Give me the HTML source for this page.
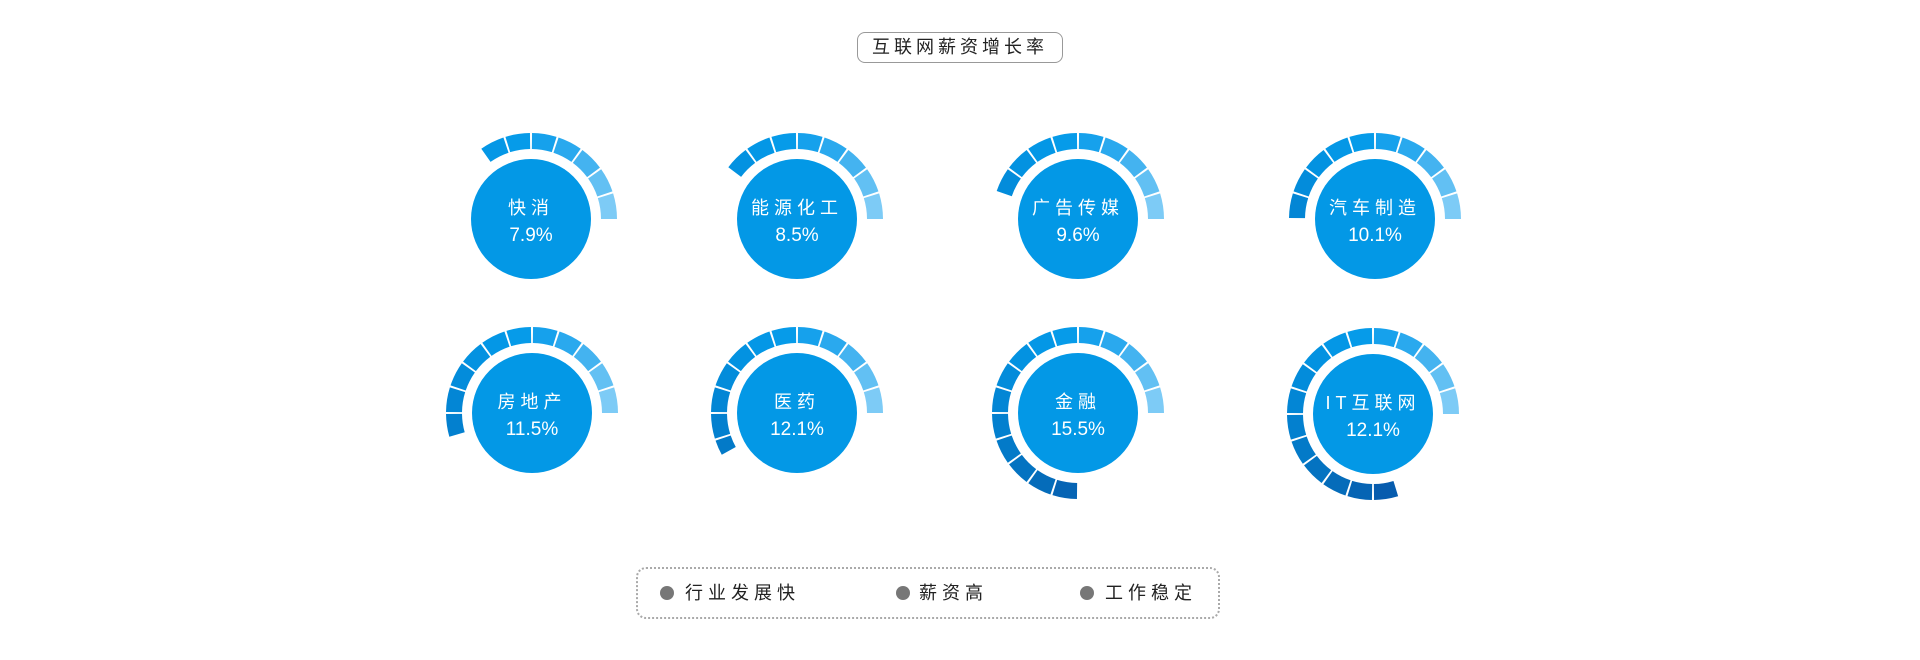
<!DOCTYPE html>
<html><head><meta charset="utf-8"><style>
html,body{margin:0;padding:0;background:#fff;}
body{width:1920px;height:660px;position:relative;overflow:hidden;font-family:"Liberation Sans","Noto Sans CJK SC",sans-serif;}
.title{position:absolute;left:857px;top:32px;width:204px;height:29px;border:1px solid #999;border-radius:8px;text-align:center;line-height:29px;font-size:18px;letter-spacing:4px;color:#222;}
.legend{position:absolute;left:636px;top:567px;width:580px;height:48px;border:2px dotted #aaa;border-radius:10px;}
.li{position:absolute;top:0;line-height:48px;font-size:18px;letter-spacing:5px;color:#222;}
.dot{position:absolute;width:14px;height:14px;border-radius:50%;background:#777;top:17px;}
</style></head><body>
<div class="title">互联网薪资增长率</div>
<svg id="s" width="1920" height="660" style="position:absolute;left:0;top:0"></svg>
<div class="legend">
<div class="dot" style="left:22px"></div><div class="li" style="left:47px">行业发展快</div>
<div class="dot" style="left:258px"></div><div class="li" style="left:281px">薪资高</div>
<div class="dot" style="left:442px"></div><div class="li" style="left:467px">工作稳定</div>
</div>
<script>
var cols=["#7dcbf6","#62c0f3","#44b3f0","#2aa9ee","#16a1ec","#069be9","#0497e6","#0392e1","#038cdb","#0386d5","#0380cf","#037ac8","#0473c1","#056cba","#0664b4","#075cae","#0756a8","#0756a8","#0756a8","#0756a8"];
var d=[[531,219,126,"快消","7.9%"],[797,219,143,"能源化工","8.5%"],[1078,219,161,"广告传媒","9.6%"],[1375,219,180,"汽车制造","10.1%"],
[532,413,196,"房地产","11.5%"],[797,413,209,"医药","12.1%"],[1078,413,270,"金融","15.5%"],[1373,414,287,"IT互联网","12.1%"]];
var h="",R1=70,R2=86,g=0.7;
function p(cx,cy,r,a){a=a*Math.PI/180;return (cx+r*Math.cos(a)).toFixed(2)+" "+(cy-r*Math.sin(a)).toFixed(2);}
d.forEach(function(o){
var cx=o[0],cy=o[1],e=o[2];
for(var i=0;i<20;i++){var a0=i*18,a1=Math.min((i+1)*18,e);if(a0>=e)break;
var s=a0+(i?g:0),t=a1-((a1<(i+1)*18)?0:g);
h+='<path fill="'+cols[i]+'" d="M'+p(cx,cy,R2,s)+' A'+R2+' '+R2+' 0 0 0 '+p(cx,cy,R2,t)+' L'+p(cx,cy,R1,t)+' A'+R1+' '+R1+' 0 0 1 '+p(cx,cy,R1,s)+'Z"/>';}
h+='<circle cx="'+cx+'" cy="'+cy+'" r="60" fill="#0398e6"/>';
h+='<text x="'+cx+'" y="'+(cy-5)+'" fill="#fff" font-size="18" text-anchor="middle" letter-spacing="5" font-family="Liberation Sans, Noto Sans CJK SC, sans-serif">'+o[3]+'</text>';
h+='<text x="'+cx+'" y="'+(cy+22)+'" fill="#fff" font-size="19" text-anchor="middle" font-family="Liberation Sans, Noto Sans CJK SC, sans-serif">'+o[4]+'</text>';
});
document.getElementById("s").innerHTML=h;
</script>
</body></html>
